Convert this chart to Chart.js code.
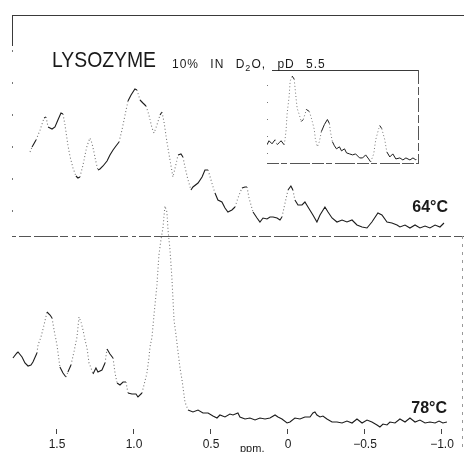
<!DOCTYPE html>
<html><head><meta charset="utf-8">
<script src="https://cdn.jsdelivr.net/npm/chart.js@4/dist/chart.umd.min.js"></script>
<style>
body{margin:0;width:464px;height:452px;overflow:hidden;background:#fff;position:relative;font-family:"Liberation Sans",Arial,sans-serif;color:#1a1a1a}
canvas{position:absolute}
.t{position:absolute;white-space:nowrap}
</style></head><body>
<canvas id="main" width="464" height="452" style="left:0;top:0"></canvas>
<canvas id="inset" width="152" height="94" style="left:267px;top:70px"></canvas>
<div class="t" style="left:52px;top:49px;font-size:22px;line-height:22px;transform:scaleX(0.88);transform-origin:0 0">LYSOZYME</div>
<div class="t" style="left:172px;top:58px;font-size:12px;line-height:12px;word-spacing:7px;letter-spacing:1px">10% IN D<sub style="font-size:9px">2</sub>O, pD 5.5</div>
<div class="t" style="right:16px;top:199px;font-size:16px;line-height:15px;font-weight:bold">64°C</div>
<div class="t" style="right:17px;top:400px;font-size:16px;line-height:15px;font-weight:bold">78°C</div>
<div class="t" style="left:240px;top:443px;font-size:11px;line-height:11px">ppm.</div>
<script>
// ---- data ----
const ppm64 = [1.675,1.662,1.636,1.610,1.584,1.571,1.558,1.532,1.513,1.494,1.474,1.461,1.448,1.429,1.416,1.396,1.377,1.364,1.351,1.331,1.318,1.305,1.286,1.273,1.260,1.247,1.234,1.221,1.201,1.175,1.156,1.136,1.117,1.097,1.078,1.058,1.039,1.019,0.994,0.981,0.961,0.942,0.922,0.903,0.883,0.870,0.851,0.831,0.818,0.805,0.786,0.766,0.747,0.727,0.714,0.695,0.682,0.669,0.649,0.630,0.617,0.584,0.558,0.539,0.519,0.494,0.474,0.455,0.429,0.409,0.390,0.364,0.344,0.325,0.299,0.279,0.266,0.253,0.227,0.201,0.182,0.162,0.136,0.117,0.097,0.071,0.052,0.039,0.019,0,-0.019,-0.032,-0.045,-0.065,-0.091,-0.110,-0.130,-0.162,-0.188,-0.208,-0.240,-0.260,-0.286,-0.318,-0.351,-0.383,-0.416,-0.448,-0.481,-0.513,-0.545,-0.584,-0.610,-0.643,-0.675,-0.708,-0.727,-0.760,-0.792,-0.825,-0.857,-0.890,-0.922,-0.955,-0.987,-1.013];
const int64 = [76,81,88,98,110,111,101,99,101,108,115,114,103,83,72,60,52,50,51,63,73,82,90,85,76,66,58,59,62,67,73,78,82,86,98,113,127,133,139,138,128,125,122,113,100,95,103,113,116,106,86,68,51,64,73,74,71,61,48,38,41,45,51,58,58,45,35,28,26,20,16,18,21,30,40,41,41,30,16,10,6,10,9,11,11,10,8,11,25,38,42,38,28,23,23,26,21,13,6,13,21,16,10,6,8,6,8,3,1,0,6,15,13,6,5,3,1,3,0,3,0,2,0,3,1,5];
const ppm78 = [1.786,1.760,1.753,1.727,1.708,1.688,1.669,1.656,1.630,1.623,1.604,1.584,1.565,1.545,1.532,1.519,1.500,1.481,1.461,1.442,1.429,1.409,1.390,1.370,1.357,1.344,1.331,1.318,1.305,1.292,1.279,1.266,1.247,1.234,1.208,1.188,1.175,1.156,1.136,1.123,1.110,1.091,1.071,1.052,1.039,1.013,0.987,0.974,0.948,0.935,0.916,0.903,0.896,0.883,0.870,0.851,0.838,0.825,0.812,0.799,0.786,0.779,0.766,0.753,0.740,0.727,0.714,0.701,0.688,0.669,0.649,0.617,0.584,0.552,0.519,0.487,0.461,0.442,0.409,0.377,0.357,0.325,0.312,0.279,0.247,0.214,0.182,0.149,0.117,0.084,0.065,0.039,0.006,-0.013,-0.045,-0.078,-0.110,-0.143,-0.162,-0.175,-0.188,-0.208,-0.227,-0.253,-0.286,-0.318,-0.351,-0.383,-0.416,-0.448,-0.481,-0.513,-0.545,-0.578,-0.597,-0.617,-0.643,-0.662,-0.695,-0.727,-0.760,-0.792,-0.825,-0.857,-0.890,-0.922,-0.955,-0.981,-1.006,-1.032];
const int78 = [62,67,68,63,57,54,55,58,67,75,83,95,108,105,102,90,75,53,47,43,48,55,68,83,103,98,90,80,72,57,52,46,52,48,50,57,71,66,62,47,37,35,38,38,27,26,26,23,27,35,47,62,73,83,105,135,165,180,192,214,208,190,170,140,100,85,68,52,40,18,10,8,10,7,7,4,2,5,3,6,5,7,3,1,2,0,2,1,2,5,3,1,-3,-2,2,1,3,3,7,8,5,3,4,1,-2,-2,-3,-1,-3,1,-3,0,-2,-5,-7,-4,-5,-2,-3,1,-2,2,-2,0,-3,-2,-3,-1,-3,-2];
const insetX = [0,2,5,8,10,12,14,17,18,19,20,22,23,25,27,28,29,30,32,34,36,38,39,42,43,45,47,48,50,52,54,57,60,62,63,65,67,69,72,74,77,79,82,85,88,92,95,98,101,103,106,108,111,112,114,117,119,122,125,128,132,135,138,142,145,148,149];
const insetY = [19,23,20,24,19,21,23,19,25,34,50,67,82,87,84,74,64,55,49,42,44,50,54,52,49,42,34,25,17,22,32,39,44,40,32,22,18,15,17,13,15,11,10,9,10,6,6,9,5,2,10,24,35,38,35,24,12,7,10,5,6,4,6,4,6,4,7];
const tickVals = [1.5,1.0,0.5,0,-0.5,-1.0];
const tickLabels = ["1.5","1.0","0.5","0","\u22120.5","\u22121.0"];

// ---- styles ----
const INK = '#1c1c1c';
const isSteep = c => {
  const dx = Math.abs(c.p1.x - c.p0.x) || 0.01, dy = Math.abs(c.p1.y - c.p0.y);
  return dy / dx > 2.4;
};
const steepDash = c => isSteep(c) ? [1, 2.4] : undefined;
const steepColor = c => isSteep(c) ? '#777' : INK;
const toPts = (xs, ys) => xs.map((x, i) => ({x, y: ys[i]}));

const framePlugin = {
  id: 'frame',
  beforeDatasetsDraw(chart) {
    const c = chart.ctx;
    c.save();
    c.lineWidth = 1;
    const seg = (x1, y1, x2, y2, dash, col) => { c.strokeStyle = col; c.setLineDash(dash); c.beginPath(); c.moveTo(x1, y1); c.lineTo(x2, y2); c.stroke(); };
    seg(12, 15.5, 464, 15.5, [], '#3a3a3a');
    seg(12.5, 15, 12.5, 46, [], '#3a3a3a');
    seg(12.5, 50, 12.5, 236, [2, 30], '#777');
    seg(12, 236.5, 464, 236.5, [4, 3, 12, 3, 24, 2, 8, 4], '#555');
    seg(462.5, 236, 462.5, 452, [3, 5], '#999');
    c.restore();
  }
};

new Chart(document.getElementById('main'), {
  type: 'line',
  data: { datasets: [
    { label: '64°C', data: toPts(ppm64, int64), yAxisID: 'yTop', borderColor: INK, borderWidth: 1.1, pointRadius: 0, tension: 0,
      segment: { borderDash: steepDash, borderColor: steepColor } },
    { label: '78°C', data: toPts(ppm78, int78), yAxisID: 'y', borderColor: INK, borderWidth: 1.1, pointRadius: 0, tension: 0,
      segment: { borderDash: steepDash, borderColor: steepColor } }
  ]},
  options: {
    responsive: false, animation: false, devicePixelRatio: 1,
    layout: { padding: 0 },
    plugins: { legend: { display: false }, tooltip: { enabled: false } },
    scales: {
      x: { type: 'linear', reverse: true, min: -1.143, max: 1.870,
        afterBuildTicks: s => { s.ticks = tickVals.map(v => ({ value: v })); },
        afterFit: s => { s.height = 23; },
        ticks: { callback: (v, i) => tickLabels[i], color: INK, padding: 3, maxRotation: 0, autoSkip: false,
          font: { family: 'Liberation Sans', size: 12 } },
        grid: { drawOnChartArea: false, drawTicks: true, tickLength: 5, color: '#444', tickColor: '#444' },
        border: { display: false } },
      y: { display: false, min: -9, max: 420 },
      yTop: { display: false, min: -201, max: 228 }
    }
  },
  plugins: [framePlugin]
});

const insetBox = {
  id: 'insetBox',
  afterDraw(chart) {
    const c = chart.ctx, a = chart.chartArea;
    c.save(); c.lineWidth = 1;
    const seg = (x1, y1, x2, y2, dash, col) => { c.strokeStyle = col; c.setLineDash(dash); c.beginPath(); c.moveTo(x1, y1); c.lineTo(x2, y2); c.stroke(); };
    seg(a.left + 5, a.top + 0.5, a.right, a.top + 0.5, [], '#3a3a3a');
    seg(a.right - 0.5, a.top, a.right - 0.5, a.bottom, [14, 3, 8, 3], '#555');
    seg(a.left, a.bottom - 0.5, a.right, a.bottom - 0.5, [12, 2, 6, 3, 20, 2], '#555');
    seg(a.left + 0.5, a.top + 15, a.left + 0.5, a.bottom - 10, [1, 16], '#777');
    c.restore();
  }
};

new Chart(document.getElementById('inset'), {
  type: 'line',
  data: { datasets: [{ data: toPts(insetX, insetY), borderColor: INK, borderWidth: 1, pointRadius: 0, tension: 0,
    segment: { borderDash: steepDash, borderColor: steepColor } }] },
  options: {
    responsive: false, animation: false, devicePixelRatio: 1,
    layout: { padding: 0 },
    plugins: { legend: { display: false }, tooltip: { enabled: false } },
    scales: { x: { type: 'linear', display: false, min: 0, max: 151 }, y: { display: false, min: 0, max: 93 } }
  },
  plugins: [insetBox]
});
</script>
</body></html>
